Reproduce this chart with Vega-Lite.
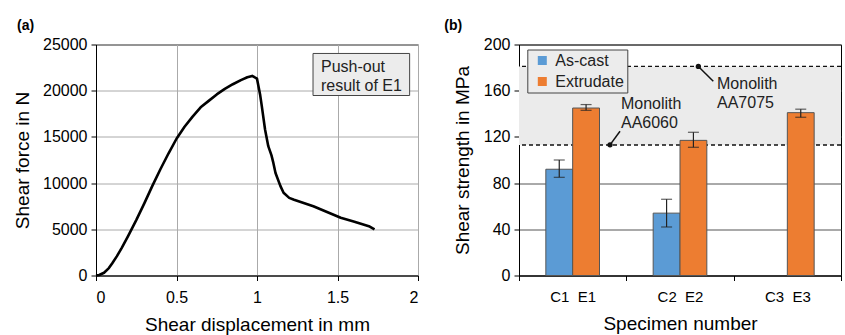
{
  "$schema": "https://vega.github.io/schema/vega-lite/v6.json",
  "padding": {"left": 12, "top": 18.5, "right": 0, "bottom": 0},
  "background": "white",
  "spacing": 24,
  "align": "none",
  "config": {
    "font": "Liberation Sans",
    "view": {"stroke": "black", "strokeWidth": 1},
    "axis": {
      "labelFont": "Liberation Sans", "labelFontSize": 16, "labelColor": "#000",
      "titleFont": "Liberation Sans", "titleFontSize": 19, "titleFontWeight": "normal", "titleColor": "#000",
      "domainColor": "#000", "tickColor": "#000", "tickSize": 5
    },
    "axisX": {"labelPadding": 9, "titlePadding": 9.5},
    "axisY": {"labelPadding": 4, "titlePadding": 10.5},
    "title": {"fontSize": 14, "fontWeight": "bold", "anchor": "start", "frame": "group", "color": "#000", "font": "Liberation Sans"}
  },
  "hconcat": [
    {
      "width": 322, "height": 231,
      "title": {"text": "(a)", "dx": -79, "offset": 3.5},
      "layer": [
        {
          "data": {"values": [
            {"d": 0, "f": 0}, {"d": 0.02, "f": 50}, {"d": 0.05, "f": 300}, {"d": 0.08, "f": 800},
            {"d": 0.1, "f": 1300}, {"d": 0.13, "f": 2100}, {"d": 0.16, "f": 3000}, {"d": 0.2, "f": 4300},
            {"d": 0.25, "f": 6000}, {"d": 0.3, "f": 7800}, {"d": 0.35, "f": 9700}, {"d": 0.4, "f": 11500},
            {"d": 0.45, "f": 13200}, {"d": 0.5, "f": 14800}, {"d": 0.55, "f": 16100}, {"d": 0.6, "f": 17200},
            {"d": 0.65, "f": 18200}, {"d": 0.7, "f": 18900}, {"d": 0.75, "f": 19600}, {"d": 0.8, "f": 20200},
            {"d": 0.85, "f": 20700}, {"d": 0.9, "f": 21150}, {"d": 0.94, "f": 21450}, {"d": 0.97, "f": 21600},
            {"d": 1.0, "f": 21300}, {"d": 1.02, "f": 19500}, {"d": 1.03, "f": 18300}, {"d": 1.05, "f": 15800},
            {"d": 1.07, "f": 14000}, {"d": 1.09, "f": 13000}, {"d": 1.1, "f": 12300}, {"d": 1.115, "f": 11100},
            {"d": 1.145, "f": 9700}, {"d": 1.165, "f": 8950}, {"d": 1.2, "f": 8400}, {"d": 1.23, "f": 8200},
            {"d": 1.35, "f": 7500}, {"d": 1.52, "f": 6250}, {"d": 1.6, "f": 5850}, {"d": 1.7, "f": 5300},
            {"d": 1.73, "f": 5000}
          ]},
          "mark": {"type": "line", "color": "black", "strokeWidth": 2.6, "strokeJoin": "round"},
          "encoding": {
            "x": {"field": "d", "type": "quantitative", "scale": {"domain": [0, 2], "nice": false},
                  "axis": {"values": [0, 0.5, 1, 1.5, 2], "format": "~g", "title": "Shear displacement in mm", "gridColor": "#aaa", "gridOpacity": 1}},
            "y": {"field": "f", "type": "quantitative", "scale": {"domain": [0, 25000], "nice": false},
                  "axis": {"values": [0, 5000, 10000, 15000, 20000, 25000], "format": "d", "title": "Shear force in N", "gridColor": "#aaa", "gridOpacity": 1}}
          }
        },
        {
          "data": {"values": [{}]},
          "mark": {"type": "rect", "fill": "#ececec", "stroke": "#444", "strokeWidth": 1},
          "encoding": {
            "x": {"datum": 1.348, "type": "quantitative"}, "x2": {"datum": 1.948},
            "y": {"datum": 24030, "type": "quantitative"}, "y2": {"datum": 19480}
          }
        },
        {
          "data": {"values": [{}]},
          "mark": {"type": "text", "align": "left", "baseline": "top", "fontSize": 16, "lineHeight": 18.5, "color": "#222"},
          "encoding": {
            "x": {"datum": 1.3975, "type": "quantitative"},
            "y": {"datum": 23377, "type": "quantitative"},
            "text": {"value": ["Push-out", "result of E1"]}
          }
        }
      ]
    },
    {
      "width": 322, "height": 231,
      "title": {"text": "(b)", "dx": -74.7, "offset": 3.5},
      "resolve": {"scale": {"x": "independent"}},
      "layer": [
        {
          "data": {"values": [{}]},
          "mark": {"type": "rect", "fill": "#ebebeb"},
          "encoding": {
            "y": {"datum": 113, "type": "quantitative", "scale": {"domain": [0, 200], "nice": false},
                  "axis": {"values": [0, 40, 80, 120, 160, 200], "title": "Shear strength in MPa", "grid": true, "gridColor": "#555", "gridOpacity": 1}},
            "y2": {"datum": 181}
          }
        },
        {
          "data": {"values": [{"lvl": 113}, {"lvl": 181}]},
          "mark": {"type": "rule", "color": "#111", "strokeWidth": 1.3, "strokeDash": [4, 3]},
          "encoding": {"y": {"field": "lvl", "type": "quantitative"}}
        },
        {
          "data": {"values": [
            {"spec": "C1\u00a0\u00a0E1", "type": "As-cast", "v": 92, "lo": 85, "hi": 100},
            {"spec": "C1\u00a0\u00a0E1", "type": "Extrudate", "v": 145, "lo": 143, "hi": 148},
            {"spec": "C2\u00a0\u00a0E2", "type": "As-cast", "v": 54, "lo": 42, "hi": 66},
            {"spec": "C2\u00a0\u00a0E2", "type": "Extrudate", "v": 117, "lo": 111, "hi": 124},
            {"spec": "C3\u00a0\u00a0E3", "type": "Extrudate", "v": 141, "lo": 137, "hi": 144}
          ]},
          "encoding": {
            "x": {"field": "spec", "type": "nominal", "sort": null,
                  "scale": {"domain": ["C1\u00a0\u00a0E1", "C2\u00a0\u00a0E2", "C3\u00a0\u00a0E3"], "paddingInner": 0, "paddingOuter": 0},
                  "axis": {"title": "Specimen number", "labelAngle": 0, "labelFontSize": 15, "tickBand": "extent", "grid": false}},
            "xOffset": {"field": "type", "type": "nominal", "scale": {"domain": ["As-cast", "Extrudate"], "paddingInner": 0, "paddingOuter": 1.04}}
          },
          "layer": [
            {
              "mark": {"type": "bar", "stroke": "#555", "strokeWidth": 1},
              "encoding": {
                "y": {"field": "v", "type": "quantitative"},
                "color": {"field": "type", "type": "nominal",
                          "scale": {"domain": ["As-cast", "Extrudate"], "range": ["#5b9bd5", "#ed7d31"]},
                          "legend": {"title": null, "orient": "none", "legendX": 431.3, "legendY": 5, "direction": "vertical",
                                     "fillColor": "#ececec", "strokeColor": "#444", "padding": 3,
                                     "symbolType": "square", "symbolSize": 81, "symbolStrokeWidth": 0, "symbolOffset": 4,
                                     "labelFontSize": 16, "labelFont": "Liberation Sans", "labelColor": "#222", "labelOffset": 5, "rowPadding": 5}}
              }
            },
            {
              "mark": {"type": "rule", "color": "#222", "strokeWidth": 1.2},
              "encoding": {"y": {"field": "lo", "type": "quantitative"}, "y2": {"field": "hi"}}
            },
            {
              "mark": {"type": "tick", "color": "#222", "thickness": 1.2, "size": 11},
              "encoding": {"y": {"field": "lo", "type": "quantitative"}}
            },
            {
              "mark": {"type": "tick", "color": "#222", "thickness": 1.2, "size": 11},
              "encoding": {"y": {"field": "hi", "type": "quantitative"}}
            }
          ]
        },
        {
          "data": {"values": [
            {"px": 1.671, "py": 181, "ex": 1.81, "ey": 168.2, "tx": 1.845, "ty": 172.3, "l1": "Monolith", "l2": "AA7075"},
            {"px": 0.848, "py": 113.1, "ex": 0.941, "ey": 124.9, "tx": 0.95, "ty": 155.0, "l1": "Monolith", "l2": "AA6060"}
          ]},
          "layer": [
            {
              "mark": {"type": "rule", "color": "#111", "strokeWidth": 1.5},
              "encoding": {
                "x": {"field": "px", "type": "quantitative", "scale": {"domain": [0, 3], "nice": false}, "axis": null},
                "y": {"field": "py", "type": "quantitative"},
                "x2": {"field": "ex"}, "y2": {"field": "ey"}
              }
            },
            {
              "mark": {"type": "point", "filled": true, "color": "#111", "size": 28, "opacity": 1},
              "encoding": {
                "x": {"field": "px", "type": "quantitative"},
                "y": {"field": "py", "type": "quantitative"}
              }
            },
            {
              "mark": {"type": "text", "align": "left", "baseline": "top", "fontSize": 16, "color": "#222"},
              "encoding": {
                "x": {"field": "tx", "type": "quantitative"},
                "y": {"field": "ty", "type": "quantitative"},
                "text": {"field": "l1"}
              }
            },
            {
              "mark": {"type": "text", "align": "left", "baseline": "top", "fontSize": 16, "color": "#222", "dy": 19},
              "encoding": {
                "x": {"field": "tx", "type": "quantitative"},
                "y": {"field": "ty", "type": "quantitative"},
                "text": {"field": "l2"}
              }
            }
          ]
        }
      ]
    }
  ]
}
